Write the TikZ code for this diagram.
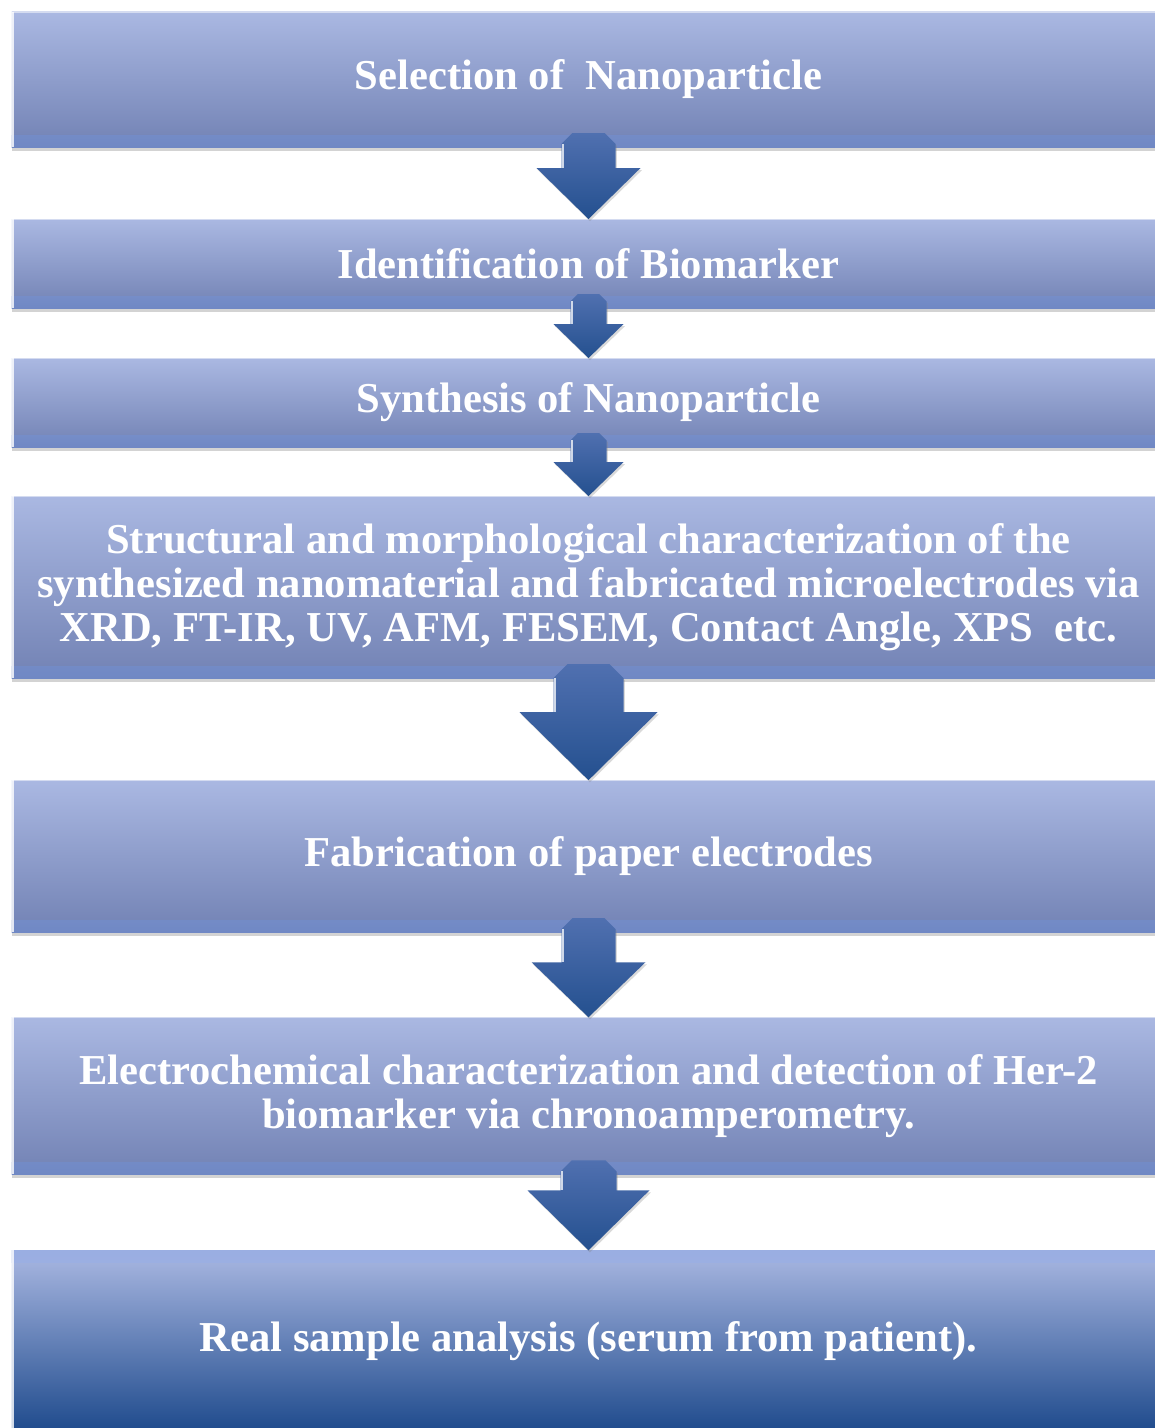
\documentclass[tikz,border=0pt]{standalone}
\usepackage{fontspec}
\setmainfont{Liberation Serif}
\usetikzlibrary{positioning,calc,shadows}
\definecolor{BoxTop}{HTML}{AAB8E2}
\definecolor{BoxBottom}{HTML}{7282B4}
\definecolor{BevelMid}{HTML}{C0D0F8}
\definecolor{BevelTop}{HTML}{9AAEE2}
\definecolor{BevelDark}{HTML}{7088C4}
\definecolor{ArrowTop}{HTML}{5070B0}
\definecolor{ArrowBottom}{HTML}{24508F}
\definecolor{DeepBlue}{HTML}{1E4A8C}

% block arrow: from, to, shaft half width, head half width, head length (px)
\newcommand{\flowarrow}[5]{%
  \path[arrowbody] ($(#1.south)+(-#3,{-14+0.4*#3})$)
    -- ($(#1.south)+({-0.6*#3},-14)$)
    -- ($(#1.south)+({0.6*#3},-14)$)
    -- ($(#1.south)+(#3,{-14+0.4*#3})$)
    -- ($(#2.north)+(#3,-#5)$)
    -- ($(#2.north)+(#4,-#5)$)
    -- (#2.north)
    -- ($(#2.north)+(-#4,-#5)$)
    -- ($(#2.north)+(-#3,-#5)$) -- cycle;
  \draw[white, opacity=0.75, line width=1.2pt]
    ($(#1.south)+({-#3+1.5},{-14+0.4*#3})$) -- ($(#2.north)+({-#3+1.5},-#5)$);
}

\begin{document}
\begin{tikzpicture}[
  x=0.025cm, y=-0.025cm,
  stage/.style={rectangle, outer sep=0pt, inner sep=0pt, minimum width=28.825cm,
                align=center, text=white, font=\fontsize{30.3}{31.3}\selectfont\bfseries,
                top color=BoxTop, bottom color=BoxBottom,
                drop shadow={shadow xshift=0pt, shadow yshift=-2.5pt, opacity=0.35},
                path picture={
                  \shade[top color=BevelTop, middle color=BevelMid, bottom color=BevelDark]
                    (path picture bounding box.south west)
                    rectangle ([yshift=0.3cm]path picture bounding box.south east);
                  \draw[white, line width=2.5pt, opacity=0.8]
                    (path picture bounding box.south west) -- (path picture bounding box.north west);
                  \draw[white, line width=1.5pt, opacity=0.5]
                    (path picture bounding box.north west) -- (path picture bounding box.north east);
                }},
  lastbox/.style={stage, middle color=BoxTop!80!BoxBottom, bottom color=DeepBlue,
                path picture={
                  \shade[top color=BevelTop, middle color=BevelMid, bottom color=BoxTop]
                    (path picture bounding box.north west)
                    rectangle ([yshift=-0.3cm]path picture bounding box.north east);
                  \draw[white, line width=2.5pt, opacity=0.8]
                    (path picture bounding box.south west) -- (path picture bounding box.north west);
                }},
  arrowbody/.style={top color=ArrowTop, bottom color=ArrowBottom,
                drop shadow={shadow xshift=1pt, shadow yshift=-1.5pt, opacity=0.3}}
]
  \useasboundingbox (0,0) rectangle (1155,1428);

  %% Stages (stacked top to bottom)
  \node[stage, minimum height=3.375cm] (b1) at (588.5,79.5) {Selection of~ Nanoparticle};
  \node[stage, minimum height=2.225cm, below=1.8cm of b1] (b2) {Identification of Biomarker};
  \node[stage, minimum height=2.225cm, below=1.25cm of b2] (b3) {Synthesis of Nanoparticle};
  \node[stage, minimum height=4.55cm, below=1.225cm of b3] (b4)
    {Structural and morphological characterization of the\\
     synthesized nanomaterial and fabricated microelectrodes via\\
     XRD, FT-IR, UV, AFM, FESEM, Contact Angle, XPS~ etc.};
  \node[stage, minimum height=3.8cm, below=2.55cm of b4] (b5) {Fabrication of paper electrodes};
  \node[stage, minimum height=3.925cm, below=2.125cm of b5] (b6)
    {Electrochemical characterization and detection of Her-2\\
     biomarker via chronoamperometry.};
  \node[lastbox, minimum height=4.55cm, below=1.9cm of b6] (b7) {Real sample analysis (serum from patient).};

  %% Block arrows between stages
  \flowarrow{b1}{b2}{27}{52}{51}
  \flowarrow{b2}{b3}{18}{35}{34}
  \flowarrow{b3}{b4}{18}{35}{34}
  \flowarrow{b4}{b5}{35}{69}{68}
  \flowarrow{b5}{b6}{27}{57}{55}
  \flowarrow{b6}{b7}{28}{61}{60}
\end{tikzpicture}
\end{document}
